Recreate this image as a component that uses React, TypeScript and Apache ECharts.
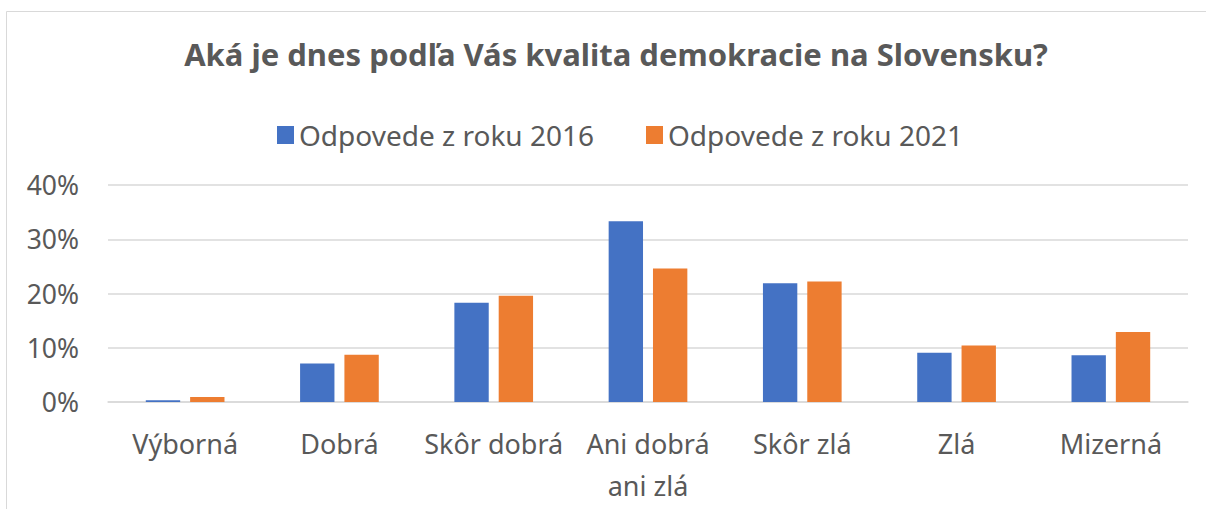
import React, { useEffect, useRef } from "react";
import * as echarts from "echarts";

const categories = ["Výborná", "Dobrá", "Skôr dobrá", "Ani dobrá\nani zlá", "Skôr zlá", "Zlá", "Mizerná"];
const values2016 = [0.3, 7.1, 18.3, 33.3, 21.9, 9.1, 8.6];
const values2021 = [0.9, 8.7, 19.6, 24.6, 22.2, 10.4, 12.9];
const seriesNames = ["Odpovede z roku 2016", "Odpovede z roku 2021"];
const titleText = "Aká je dnes podľa Vás kvalita demokracie na Slovensku?";

const FONT = "'Noto Sans', sans-serif";
const TEXT = "#595959";

export default function App() {
  const ref = useRef<HTMLDivElement>(null);
  useEffect(() => {
    if (!ref.current) return;
    const chart = echarts.init(ref.current, undefined, { renderer: "svg" });
    chart.setOption({
      animation: false,
      backgroundColor: "#ffffff",
      textStyle: { fontFamily: FONT },
      title: {
        text: titleText,
        left: 611,
        top: 33,
        textAlign: "center",
        textStyle: { fontFamily: FONT, fontSize: 31, fontWeight: "bold", color: TEXT },
      },
      legend: {
        left: 272,
        top: 116,
        itemWidth: 17,
        itemHeight: 18,
        itemGap: 52,
        icon: "rect",
        textStyle: { fontFamily: FONT, fontSize: 28, color: TEXT },
        data: seriesNames,
      },
      graphic: [
        {
          type: "rect",
          shape: { x: 6.5, y: 11.5, width: 1400, height: 700 },
          style: { fill: "none", stroke: "#d9d9d9", lineWidth: 1 },
          silent: true,
        },
      ],
      grid: { left: 108, right: 18, top: 185, bottom: 107, containLabel: false },
      xAxis: {
        type: "category",
        data: categories,
        axisTick: { show: false },
        axisLine: { lineStyle: { color: "#d9d9d9", width: 1.5 } },
        axisLabel: {
          fontFamily: FONT,
          fontSize: 27,
          color: TEXT,
          lineHeight: 42,
          margin: 20,
          interval: 0,
        },
      },
      yAxis: {
        type: "value",
        min: 0,
        max: 40,
        interval: 10,
        axisLine: { show: false },
        axisTick: { show: false },
        splitLine: { lineStyle: { color: "#d9d9d9", width: 1.5 } },
        axisLabel: {
          fontFamily: FONT,
          fontSize: 26.5,
          color: TEXT,
          margin: 29,
          formatter: (v: number) => `${v}%`,
        },
      },
      series: [
        {
          name: seriesNames[0],
          type: "bar",
          data: values2016,
          itemStyle: { color: "#4472C4" },
          barGap: "29%",
          barCategoryGap: "49%",
        },
        {
          name: seriesNames[1],
          type: "bar",
          data: values2021,
          itemStyle: { color: "#ED7D31" },
          barGap: "29%",
          barCategoryGap: "49%",
        },
      ],
    });
    return () => chart.dispose();
  }, []);
  return (
    <div
      ref={ref}
      style={{ position: "fixed", left: 0, top: 0, width: 1206, height: 509 }}
    />
  );
}
